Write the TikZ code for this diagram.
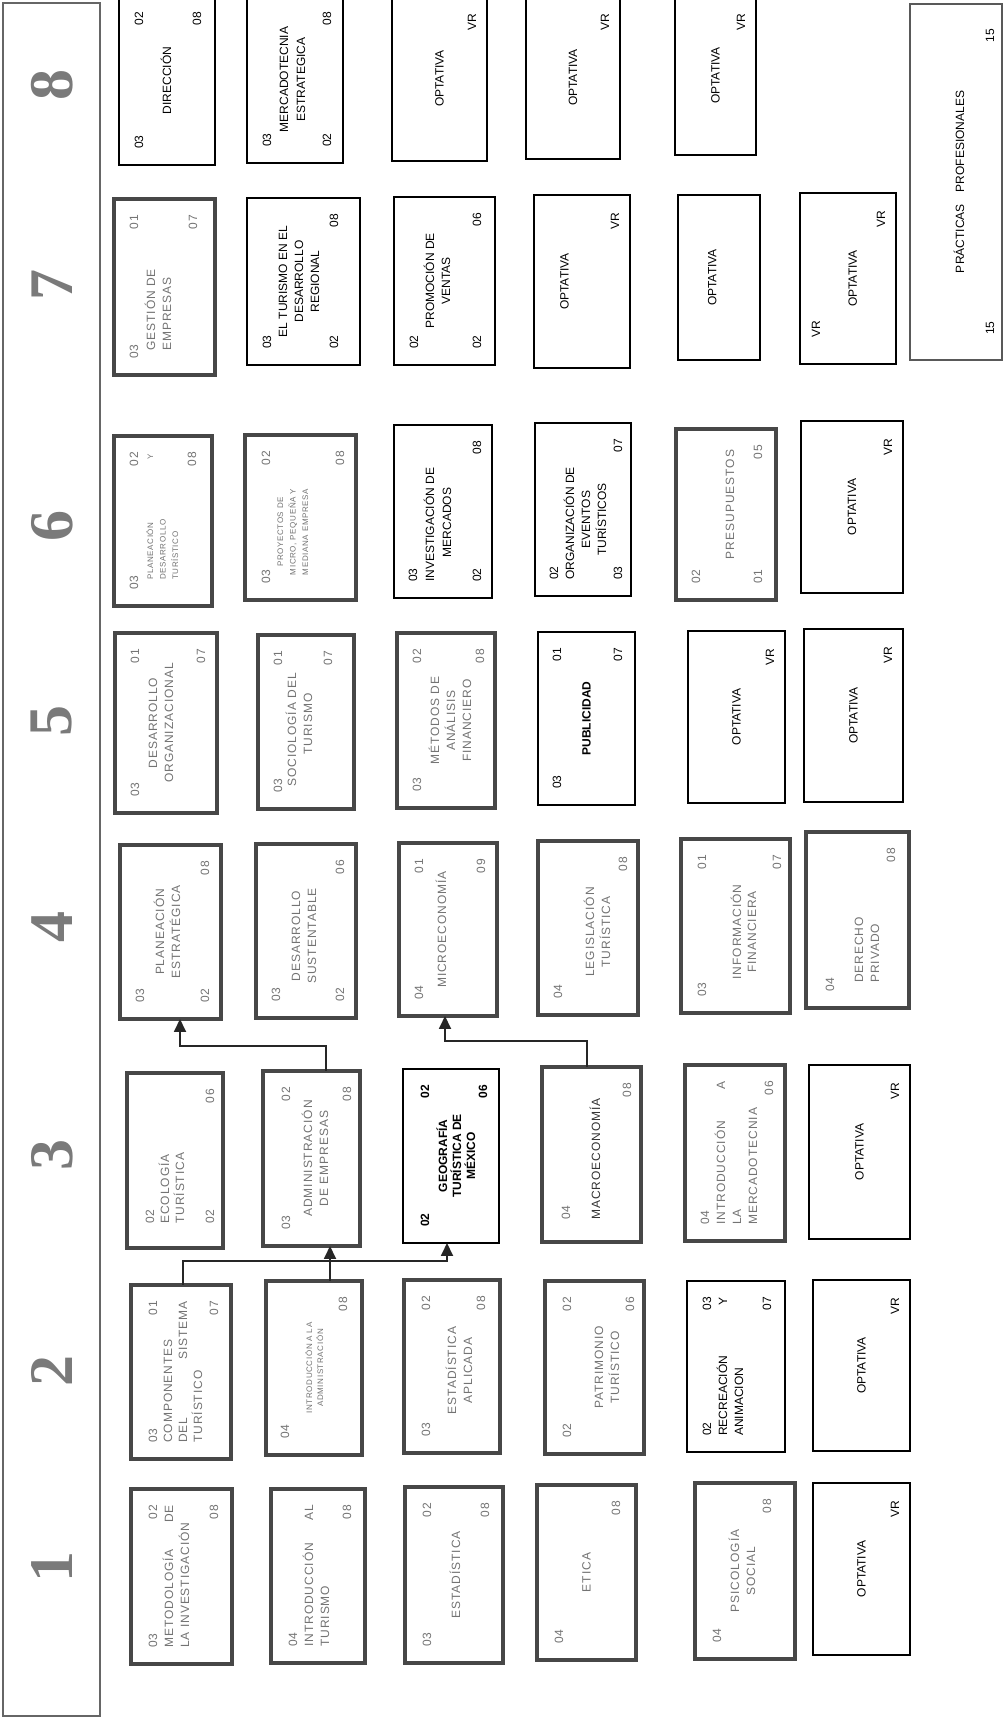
\documentclass[tikz,border=0pt]{standalone}
\usepackage{fontspec}
\setmainfont{Liberation Sans}
\newfontfamily\grayfont[LetterSpace=8]{Liberation Sans}
\newfontfamily\numfont{Liberation Serif}
\usetikzlibrary{arrows.meta}
\tikzset{
  thinbox/.style={draw=black, line width=1.6pt, fill=white, inner sep=0pt, outer sep=0pt},
  thickbox/.style={draw=black!72, line width=3.6pt, fill=white, inner sep=0pt, outer sep=0pt},
  pracbox/.style={draw=black!65, line width=1.4pt, fill=white, inner sep=0pt, outer sep=0pt},
  blk/.style={every node/.append style={font=\fontsize{12}{14}\selectfont, text=black, inner sep=0pt}},
  gry/.style={every node/.append style={font=\grayfont\fontsize{12}{14}\selectfont, text=black!55, inner sep=0pt}},
  sm/.style={font=\grayfont\fontsize{8}{10}\selectfont},
  semnum/.style={font=\numfont\bfseries\fontsize{62}{62}\selectfont, text=black!52, inner sep=0pt},
  conn/.style={line width=1.8pt, draw=black!85, -{Triangle[length=13pt,width=12pt]}},
}
\newcommand\card[7]{%
  \pgfmathsetmacro\cW{#4-#2}\pgfmathsetmacro\cH{#5-#3}%
  \begin{scope}[shift={(#2,#3)},#7]
  \node[#6, anchor=north west, minimum width=\cW pt, minimum height=\cH pt] (#1) at (0,0) {};}
\newcommand\cardend{\end{scope}}
\newcommand\Lt[3][16]{\node[anchor=base west] at (#1,#2) {#3};}
\newcommand\Rt[3][16]{\node[anchor=base east] at (\cW-#1,#2) {#3};}
\newcommand\Ct[3][0]{\node[anchor=base] at (\cW/2+#1,#2) {#3};}
\newcommand\Opt[1][0.5]{\Ct{\cH*#1+4}{OPTATIVA}\Rt[18]{\cH-11}{VR}}
\begin{document}
\begin{tikzpicture}[x=1pt,y=1pt]
\fill[white] (0,0) rectangle (1005,1721);
\clip (0,0) rectangle (1005,1721);
\begin{scope}[rotate=90, transform shape, y=-1pt]
% header
\node[draw=black!60, line width=1.2pt, fill=white, anchor=north west, minimum width=1713pt, minimum height=97pt, inner sep=0pt, outer sep=0pt] (hdr) at (5,3) {};
\node[semnum] (h1) at (154,52) {1};
\node[semnum] (h2) at (350,52) {2};
\node[semnum] (h3) at (566,52) {3};
\node[semnum] (h4) at (794,52) {4};
\node[semnum] (h5) at (1000,52) {5};
\node[semnum] (h6) at (1195,52) {6};
\node[semnum] (h7) at (1436,52) {7};
\node[semnum] (h8) at (1636,52) {8};
% ---------------- semester 8
\card{s8a}{1556}{119}{1725}{215}{thinbox}{blk}
 \Lt{24}{03}\Rt{24}{02}\Ct{\cH/2+4}{DIRECCIÓN}\Rt{\cH-14}{08}
\cardend
\card{s8b}{1558}{247}{1725}{343}{thinbox}{blk}
 \Lt{24}{03}\Ct{41}{MERCADOTECNIA}\Ct{58}{ESTRATEGICA}\Lt{\cH-12}{02}\Rt{\cH-12}{08}
\cardend
\card{s8c}{1560}{392}{1725}{487}{thinbox}{blk}\Opt\cardend
\card{s8d}{1562}{526}{1725}{620}{thinbox}{blk}\Opt\cardend
\card{s8e}{1566}{675}{1725}{756}{thinbox}{blk}\Opt\cardend
\card{prac}{1361}{910}{1717}{1002}{pracbox}{blk}
 \Ct{\cH/2+8}{PRÁCTICAS\quad PROFESIONALES}\Lt[25]{\cH-8}{15}\Rt[25]{\cH-8}{15}
\cardend
% ---------------- semester 7
\card{s7a}{1346}{114}{1522}{215}{thickbox}{gry}
 \Lt{24}{03}\Rt{24}{01}\Lt[24]{41}{GESTIÓN DE}\Lt[24]{57}{EMPRESAS}\Rt{\cH-18}{07}
\cardend
\card{s7b}{1356}{247}{1523}{360}{thinbox}{blk}
 \Lt{24}{03}\Ct{40}{EL TURISMO EN EL}\Ct{56}{DESARROLLO}\Ct{72}{REGIONAL}\Lt{\cH-22}{02}\Rt{\cH-22}{08}
\cardend
\card{s7c}{1356}{394}{1524}{495}{thinbox}{blk}
 \Lt{24}{02}\Ct{40}{PROMOCIÓN DE}\Ct{56}{VENTAS}\Lt{\cH-14}{02}\Rt{\cH-14}{06}
\cardend
\card{s7d}{1353}{534}{1526}{630}{thinbox}{blk}\Opt[0.32]\cardend
\card{s7e}{1361}{678}{1526}{760}{thinbox}{blk}\Ct{\cH*0.42+4}{OPTATIVA}\cardend
\card{s7f}{1357}{800}{1528}{896}{thinbox}{blk}\Lt[26]{20}{VR}\Opt[0.55]\cardend
% ---------------- semester 6
\card{s6a}{1115}{114}{1285}{212}{thickbox}{gry}
 \Lt{24}{03}\Rt{24}{02}
 \node[sm, anchor=base west] at (26,39) {PLANEACIÓN};
 \node[sm, anchor=base west] at (26,51.5) {DESARROLLO};
 \node[sm, anchor=base west] at (26,64) {TURÍSTICO};
 \node[sm, anchor=base east] at (\cW-18,39) {Y};
 \Rt{\cH-16}{08}
\cardend
\card{s6b}{1121}{245}{1286}{356}{thickbox}{gry}
 \Lt{25}{03}\Rt{25}{02}
 \node[sm, anchor=base] at (68,38) {PROYECTOS DE};
 \node[sm, anchor=base] at (68,50.5) {MICRO, PEQUEÑA Y};
 \node[sm, anchor=base] at (68,63) {MEDIANA EMPRESA};
 \Rt{\cH-12}{08}
\cardend
\card{s6c}{1123}{394}{1296}{492}{thinbox}{blk}
 \Lt{23}{03}\Lt{40}{INVESTIGACIÓN DE}\Ct[-11]{57}{MERCADOS}\Lt{\cH-11}{02}\Rt{\cH-11}{08}
\cardend
\card{s6d}{1125}{535}{1298}{631}{thinbox}{blk}
 \Lt{23}{02}\Lt{39}{ORGANIZACIÓN DE}\Ct[-10]{55}{EVENTOS}\Ct[-10]{71}{TURÍSTICOS}\Lt{\cH-9}{03}\Rt{\cH-9}{07}
\cardend
\card{s6e}{1121}{676}{1292}{776}{thickbox}{gry}
 \Lt{24}{02}\Ct[10]{\cH/2+8}{PRESUPUESTOS}\Lt{\cH-14}{01}\Rt{\cH-14}{05}
\cardend
\card{s6f}{1128}{801}{1300}{903}{thinbox}{blk}\Opt\cardend
% ---------------- semester 5
\card{s5a}{908}{115}{1088}{217}{thickbox}{gry}
 \Lt{24}{03}\Rt{24}{01}\Ct{42}{DESARROLLO}\Ct{58}{ORGANIZACIONAL}\Rt{\cH-12}{07}
\cardend
\card{s5b}{912}{258}{1086}{354}{thickbox}{gry}
 \Lt{24}{03}\Rt{24}{01}\Lt[22]{38}{SOCIOLOGÍA DEL}\Ct[-2]{54}{TURISMO}\Rt{\cH-22}{07}
\cardend
\card{s5c}{913}{397}{1088}{495}{thickbox}{gry}
 \Lt{24}{03}\Rt{24}{02}\Ct{42}{MÉTODOS DE}\Ct{58}{ANÁLISIS}\Ct{74}{FINANCIERO}\Rt{\cH-11}{08}
\cardend
\card{s5d}{916}{538}{1089}{635}{thinbox}{blk}
 \Lt{23}{03}\Rt{23}{01}\Ct{\cH/2+4}{\bfseries PUBLICIDAD}\Rt{\cH-13}{07}
\cardend
\card{s5e}{918}{688}{1090}{785}{thinbox}{blk}\Opt\cardend
\card{s5f}{919}{804}{1092}{903}{thinbox}{blk}\Opt\cardend
% ---------------- semester 4
\card{s4a}{702}{120}{876}{221}{thickbox}{gry}
 \Lt{24}{03}\Ct{44}{PLANEACIÓN}\Ct{60}{ESTRATÉGICA}\Lt{\cH-12}{02}\Rt{\cH-12}{08}
\cardend
\card{s4b}{703}{256}{877}{356}{thickbox}{gry}
 \Lt{24}{03}\Ct[-5]{44}{DESARROLLO}\Ct[-5]{60}{SUSTENTABLE}\Lt{\cH-12}{02}\Rt{\cH-12}{06}
\cardend
\card{s4c}{705}{399}{878}{497}{thickbox}{gry}
 \Lt{24}{04}\Rt{24}{01}\Ct{47}{MICROECONOMÍA}\Rt{\cH-12}{09}
\cardend
\card{s4d}{706}{538}{880}{638}{thickbox}{gry}
 \Lt{24}{04}\Ct[-4]{56}{LEGISLACIÓN}\Ct[-4]{72}{TURÍSTICA}\Rt{\cH-11}{08}
\cardend
\card{s4e}{708}{681}{882}{790}{thickbox}{gry}
 \Lt{25}{03}\Rt{25}{01}\Ct[-6]{60}{INFORMACIÓN}\Ct[-6]{75}{FINANCIERA}\Rt{\cH-9}{07}
\cardend
\card{s4f}{713}{806}{889}{909}{thickbox}{gry}
 \Lt{28}{04}\Lt[25]{57}{DERECHO}\Lt[25]{73}{PRIVADO}\Rt{\cH-14}{08}
\cardend
% ---------------- semester 3
\card{s3a}{473}{127}{648}{223}{thickbox}{gry}
 \Lt[24]{27}{02}\Lt[24]{42}{ECOLOGÍA}\Lt[24]{57}{TURÍSTICA}\Lt[24]{\cH-9}{02}\Rt{\cH-9}{06}
\cardend
\card{s3b}{475}{263}{650}{360}{thickbox}{gry}
 \Lt{27}{03}\Rt{27}{02}\Ct{49}{ADMINISTRACIÓN}\Ct{65}{DE EMPRESAS}\Rt{\cH-9}{08}
\cardend
\card{s3c}{478}{403}{652}{499}{thinbox}{blk}
 \Lt{26}{\bfseries 02}\Rt{26}{\bfseries 02}\Ct{44}{\bfseries GEOGRAFÍA}\Ct{58}{\bfseries TURÍSTICA DE}\Ct{72}{\bfseries MÉXICO}\Rt{\cH-12}{\bfseries 06}
\cardend
\card{s3d}{479}{542}{654}{641}{thickbox}{gry}
 \Lt[22]{28}{04}\Lt[22]{58}{\color{black!80}MACROECONOMÍA}\Rt{\cH-10}{08}
\cardend
\card{s3e}{480}{685}{656}{785}{thickbox}{gry}
 \Lt{24}{04}\Lt{40}{INTRODUCCIÓN}\Rt{40}{A}\Lt{56}{LA}\Lt{72}{MERCADOTECNIA}\Rt{\cH-12}{06}
\cardend
\card{s3f}{482}{809}{656}{910}{thinbox}{blk}\Opt\cardend
% ---------------- semester 2
\card{s2a}{262}{131}{436}{231}{thickbox}{gry}
 \Lt{26}{03}\Rt{26}{01}\Lt{41}{COMPONENTES}\Lt{56}{DEL}\Rt{56}{SISTEMA}\Lt{71}{TURÍSTICO}\Rt{\cH-13}{07}
\cardend
\card{s2b}{266}{266}{440}{362}{thickbox}{gry}
 \Lt{23}{04}
 \node[sm, anchor=base] at (\cW/2,46) {INTRODUCCIÓN A LA};
 \node[sm, anchor=base] at (\cW/2,57) {ADMINISTRACIÓN};
 \Rt{\cH-15}{08}
\cardend
\card{s2c}{268}{404}{441}{500}{thickbox}{gry}
 \Lt{26}{03}\Rt{26}{02}\Ct[-4]{52}{ESTADÍSTICA}\Ct[-4]{68}{APLICADA}\Rt{\cH-15}{08}
\cardend
\card{s2d}{267}{545}{440}{644}{thickbox}{gry}
 \Lt{26}{02}\Rt{26}{02}\Ct{58}{PATRIMONIO}\Ct{74}{TURÍSTICO}\Rt{\cH-10}{06}
\cardend
\card{s2e}{269}{687}{440}{785}{thinbox}{blk}
 \Lt{24}{02}\Rt{24}{03}\Lt{40}{RECREACIÓN}\Rt{40}{Y}\Lt{56}{ANIMACION}\Rt{\cH-14}{07}
\cardend
\card{s2f}{270}{813}{441}{910}{thinbox}{blk}\Opt\cardend
% ---------------- semester 1
\card{s1a}{57}{131}{232}{232}{thickbox}{gry}
 \Lt{26}{03}\Rt{26}{02}\Lt{42}{METODOLOGÍA}\Rt{42}{DE}\Lt{58}{LA INVESTIGACIÓN}\Rt{\cH-14}{08}
\cardend
\card{s1b}{58}{271}{232}{365}{thickbox}{gry}
 \Lt{26}{04}\Lt{42}{INTRODUCCIÓN}\Rt{42}{AL}\Lt{58}{TURISMO}\Rt{\cH-14}{08}
\cardend
\card{s1c}{58}{405}{234}{503}{thickbox}{gry}
 \Lt{26}{03}\Rt{26}{02}\Ct{\cH/2+6}{ESTADÍSTICA}\Rt{\cH-14}{08}
\cardend
\card{s1d}{61}{537}{236}{636}{thickbox}{gry}
 \Lt{26}{04}\Ct{\cH/2+4}{ETICA}\Rt{\cH-16}{08}
\cardend
\card{s1e}{62}{695}{238}{795}{thickbox}{gry}
 \Lt{26}{04}\Ct{44}{PSICOLOGÍA}\Ct{60}{SOCIAL}\Rt{\cH-24}{08}
\cardend
\card{s1f}{66}{813}{238}{910}{thinbox}{blk}\Opt\cardend
% ---------------- connectors
\coordinate (a1) at (675,326);
\coordinate (a2) at (675,180);
\draw[conn] (s3b.east |- a1) -- (a1) -- (a2) -- (s4a.west |- a2);
\coordinate (b1) at (680,587);
\coordinate (b2) at (680,445);
\draw[conn] (s3d.east |- b1) -- (b1) -- (b2) -- (s4c.west |- b2);
\coordinate (c1) at (460,183);
\coordinate (c2) at (460,447);
\draw[conn] (s2a.east |- c1) -- (c1) -- (c2) -- (s3c.west |- c2);
\coordinate (d1) at (460,330);
\draw[conn] (s2b.east |- d1) -- (s3b.west |- d1);
\end{scope}
\end{tikzpicture}
\end{document}
